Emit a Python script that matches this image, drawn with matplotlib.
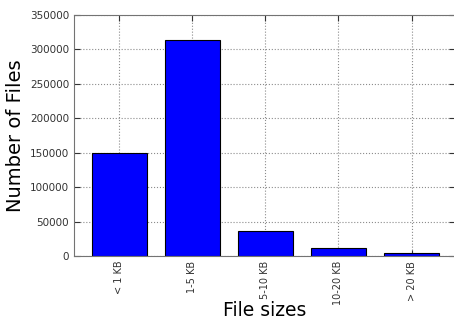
import matplotlib
matplotlib.use("Agg")
import matplotlib.pyplot as plt
import numpy as np

categories = ["< 1 KB", "1-5 KB", "5-10 KB", "10-20 KB", "> 20 KB"]
counts = [150000, 314000, 36500, 11500, 4000]

fig = plt.figure(figsize=(4.54, 3.2), dpi=100)
ax = fig.add_axes([0.163, 0.2, 0.84, 0.753])

x = np.arange(len(categories))
ax.bar(x, counts, width=0.76, color="#0000ff", edgecolor="black", linewidth=0.8, zorder=2)

ax.set_xlim(-0.62, 4.6)
ax.set_ylim(0, 350000)
ax.set_xticks(x)
ax.set_xticklabels(categories, rotation=90, fontsize=7)
ax.tick_params(axis="y", labelsize=7.5, colors="#333333")
ax.tick_params(axis="x", colors="#333333")
ax.tick_params(direction="in", top=True, right=True, length=4)
ax.grid(True, linestyle=":", color="0.55", linewidth=0.8, zorder=0)
for s in ax.spines.values():
    s.set_color("0.45")

ax.set_xlabel("File sizes", fontsize=13.5)
ax.set_ylabel("Number of Files", fontsize=14)
ax.xaxis.set_label_coords(0.5, -0.188)
ax.yaxis.set_label_coords(-0.128, 0.5)

fig.savefig("out.png", dpi=100)
